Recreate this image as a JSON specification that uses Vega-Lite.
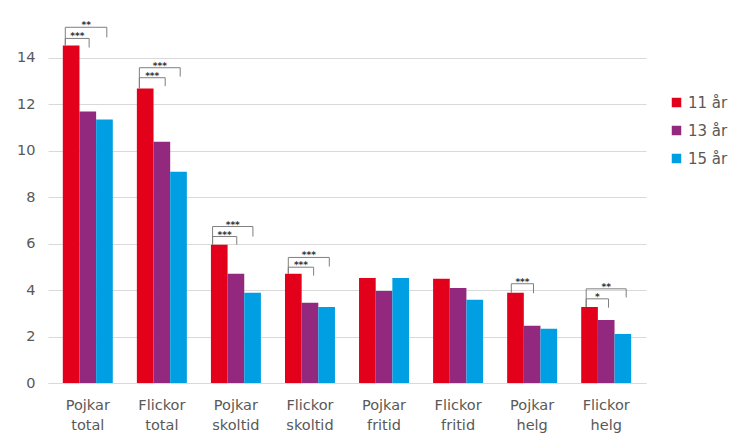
{
  "$schema": "https://vega.github.io/schema/vega-lite/v6.json",
  "autosize": {"type": "none"},
  "width": 598,
  "height": 372,
  "padding": {"left": 48, "top": 11, "right": 107, "bottom": 65},
  "config": {
    "view": {"stroke": null},
    "font": "DejaVu Sans",
    "text": {"font": "DejaVu Sans"}
  },
  "datasets": {
    "bars": [
      {"cat": "Pojkar total", "age": "11 år", "v": 14.52},
      {"cat": "Pojkar total", "age": "13 år", "v": 11.68},
      {"cat": "Pojkar total", "age": "15 år", "v": 11.33},
      {"cat": "Flickor total", "age": "11 år", "v": 12.67},
      {"cat": "Flickor total", "age": "13 år", "v": 10.38},
      {"cat": "Flickor total", "age": "15 år", "v": 9.09},
      {"cat": "Pojkar skoltid", "age": "11 år", "v": 5.95},
      {"cat": "Pojkar skoltid", "age": "13 år", "v": 4.70},
      {"cat": "Pojkar skoltid", "age": "15 år", "v": 3.88},
      {"cat": "Flickor skoltid", "age": "11 år", "v": 4.70},
      {"cat": "Flickor skoltid", "age": "13 år", "v": 3.45},
      {"cat": "Flickor skoltid", "age": "15 år", "v": 3.27},
      {"cat": "Pojkar fritid", "age": "11 år", "v": 4.52},
      {"cat": "Pojkar fritid", "age": "13 år", "v": 3.96},
      {"cat": "Pojkar fritid", "age": "15 år", "v": 4.52},
      {"cat": "Flickor fritid", "age": "11 år", "v": 4.48},
      {"cat": "Flickor fritid", "age": "13 år", "v": 4.09},
      {"cat": "Flickor fritid", "age": "15 år", "v": 3.58},
      {"cat": "Pojkar helg", "age": "11 år", "v": 3.88},
      {"cat": "Pojkar helg", "age": "13 år", "v": 2.46},
      {"cat": "Pojkar helg", "age": "15 år", "v": 2.33},
      {"cat": "Flickor helg", "age": "11 år", "v": 3.27},
      {"cat": "Flickor helg", "age": "13 år", "v": 2.71},
      {"cat": "Flickor helg", "age": "15 år", "v": 2.11}
    ],
    "brackets": [
      {"cat": "Pojkar total", "id": "pt_o", "ord": 1, "xo": 0.15, "y": 14.52},
      {"cat": "Pojkar total", "id": "pt_o", "ord": 2, "xo": 0.15, "y": 15.30},
      {"cat": "Pojkar total", "id": "pt_o", "ord": 3, "xo": 2.64, "y": 15.30},
      {"cat": "Pojkar total", "id": "pt_o", "ord": 4, "xo": 2.64, "y": 14.86},
      {"cat": "Pojkar total", "id": "pt_i", "ord": 1, "xo": 0.15, "y": 14.52},
      {"cat": "Pojkar total", "id": "pt_i", "ord": 2, "xo": 0.15, "y": 14.82},
      {"cat": "Pojkar total", "id": "pt_i", "ord": 3, "xo": 1.58, "y": 14.82},
      {"cat": "Pojkar total", "id": "pt_i", "ord": 4, "xo": 1.58, "y": 14.43},
      {"cat": "Flickor total", "id": "ft_o", "ord": 1, "xo": 0.15, "y": 12.67},
      {"cat": "Flickor total", "id": "ft_o", "ord": 2, "xo": 0.15, "y": 13.56},
      {"cat": "Flickor total", "id": "ft_o", "ord": 3, "xo": 2.6, "y": 13.56},
      {"cat": "Flickor total", "id": "ft_o", "ord": 4, "xo": 2.6, "y": 13.18},
      {"cat": "Flickor total", "id": "ft_i", "ord": 1, "xo": 0.15, "y": 12.67},
      {"cat": "Flickor total", "id": "ft_i", "ord": 2, "xo": 0.15, "y": 13.13},
      {"cat": "Flickor total", "id": "ft_i", "ord": 3, "xo": 1.7, "y": 13.13},
      {"cat": "Flickor total", "id": "ft_i", "ord": 4, "xo": 1.7, "y": 12.77},
      {"cat": "Pojkar skoltid", "id": "ps_o", "ord": 1, "xo": 0.1, "y": 5.95},
      {"cat": "Pojkar skoltid", "id": "ps_o", "ord": 2, "xo": 0.1, "y": 6.73},
      {"cat": "Pojkar skoltid", "id": "ps_o", "ord": 3, "xo": 2.52, "y": 6.73},
      {"cat": "Pojkar skoltid", "id": "ps_o", "ord": 4, "xo": 2.52, "y": 6.30},
      {"cat": "Pojkar skoltid", "id": "ps_i", "ord": 1, "xo": 0.1, "y": 5.95},
      {"cat": "Pojkar skoltid", "id": "ps_i", "ord": 2, "xo": 0.1, "y": 6.30},
      {"cat": "Pojkar skoltid", "id": "ps_i", "ord": 3, "xo": 1.55, "y": 6.30},
      {"cat": "Pojkar skoltid", "id": "ps_i", "ord": 4, "xo": 1.55, "y": 5.95},
      {"cat": "Flickor skoltid", "id": "fs_o", "ord": 1, "xo": 0.2, "y": 4.70},
      {"cat": "Flickor skoltid", "id": "fs_o", "ord": 2, "xo": 0.2, "y": 5.40},
      {"cat": "Flickor skoltid", "id": "fs_o", "ord": 3, "xo": 2.66, "y": 5.40},
      {"cat": "Flickor skoltid", "id": "fs_o", "ord": 4, "xo": 2.66, "y": 5.01},
      {"cat": "Flickor skoltid", "id": "fs_i", "ord": 1, "xo": 0.2, "y": 4.70},
      {"cat": "Flickor skoltid", "id": "fs_i", "ord": 2, "xo": 0.2, "y": 4.98},
      {"cat": "Flickor skoltid", "id": "fs_i", "ord": 3, "xo": 1.72, "y": 4.98},
      {"cat": "Flickor skoltid", "id": "fs_i", "ord": 4, "xo": 1.72, "y": 4.62},
      {"cat": "Pojkar helg", "id": "ph_i", "ord": 1, "xo": 0.25, "y": 3.88},
      {"cat": "Pojkar helg", "id": "ph_i", "ord": 2, "xo": 0.25, "y": 4.27},
      {"cat": "Pojkar helg", "id": "ph_i", "ord": 3, "xo": 1.58, "y": 4.27},
      {"cat": "Pojkar helg", "id": "ph_i", "ord": 4, "xo": 1.58, "y": 3.86},
      {"cat": "Flickor helg", "id": "fh_o", "ord": 1, "xo": 0.3, "y": 3.27},
      {"cat": "Flickor helg", "id": "fh_o", "ord": 2, "xo": 0.3, "y": 4.05},
      {"cat": "Flickor helg", "id": "fh_o", "ord": 3, "xo": 2.7, "y": 4.05},
      {"cat": "Flickor helg", "id": "fh_o", "ord": 4, "xo": 2.7, "y": 3.68},
      {"cat": "Flickor helg", "id": "fh_i", "ord": 1, "xo": 0.3, "y": 3.27},
      {"cat": "Flickor helg", "id": "fh_i", "ord": 2, "xo": 0.3, "y": 3.62},
      {"cat": "Flickor helg", "id": "fh_i", "ord": 3, "xo": 1.64, "y": 3.62},
      {"cat": "Flickor helg", "id": "fh_i", "ord": 4, "xo": 1.64, "y": 3.24}
    ],
    "stars": [
      {"cat": "Pojkar total", "xo": 1.4, "y": 15.30, "label": "**"},
      {"cat": "Pojkar total", "xo": 0.87, "y": 14.82, "label": "***"},
      {"cat": "Flickor total", "xo": 1.38, "y": 13.56, "label": "***"},
      {"cat": "Flickor total", "xo": 0.92, "y": 13.13, "label": "***"},
      {"cat": "Pojkar skoltid", "xo": 1.31, "y": 6.73, "label": "***"},
      {"cat": "Pojkar skoltid", "xo": 0.82, "y": 6.30, "label": "***"},
      {"cat": "Flickor skoltid", "xo": 1.43, "y": 5.40, "label": "***"},
      {"cat": "Flickor skoltid", "xo": 0.96, "y": 4.98, "label": "***"},
      {"cat": "Pojkar helg", "xo": 0.92, "y": 4.27, "label": "***"},
      {"cat": "Flickor helg", "xo": 1.5, "y": 4.05, "label": "**"},
      {"cat": "Flickor helg", "xo": 0.97, "y": 3.62, "label": "*"}
    ]
  },
  "encoding": {
    "x": {
      "field": "cat",
      "type": "nominal",
      "sort": null,
      "scale": {"domain": ["Pojkar total", "Flickor total", "Pojkar skoltid", "Flickor skoltid", "Pojkar fritid", "Flickor fritid", "Pojkar helg", "Flickor helg"], "paddingInner": 0.325, "paddingOuter": 0.2},
      "axis": {
        "title": null,
        "labelAngle": 0,
        "labelExpr": "split(datum.label, ' ')",
        "labelFontSize": 14.5,
        "labelColor": "#595959",
        "labelLineHeight": 20,
        "labelPadding": 15,
        "labelBaseline": "top",
        "ticks": false,
        "domainColor": "#d9d9d9",
        "domainWidth": 1
      }
    },
    "y": {
      "type": "quantitative",
      "scale": {"domain": [0, 16], "nice": false},
      "axis": {
        "title": null,
        "values": [0, 2, 4, 6, 8, 10, 12, 14],
        "labelFontSize": 14.5,
        "labelColor": "#595959",
        "labelPadding": 13,
        "ticks": false,
        "domain": false,
        "gridColor": "#d9d9d9",
        "gridWidth": 1
      }
    }
  },
  "layer": [
    {
      "data": {"name": "bars"},
      "mark": {"type": "bar"},
      "encoding": {
        "y": {"field": "v", "type": "quantitative"},
        "xOffset": {"field": "age", "type": "nominal", "scale": {"paddingInner": 0, "paddingOuter": 0}},
        "color": {
          "field": "age",
          "type": "nominal",
          "scale": {"domain": ["11 år", "13 år", "15 år"], "range": ["#E3001B", "#93287F", "#009FE3"]},
          "legend": {
            "title": null,
            "orient": "none",
            "legendX": 621,
            "legendY": 84,
            "symbolType": "square",
            "symbolSize": 90,
            "symbolStrokeWidth": 0,
            "labelFontSize": 15,
            "labelColor": "#595959",
            "rowPadding": 12,
            "labelOffset": 4
          }
        }
      }
    },
    {
      "data": {"name": "brackets"},
      "mark": {"type": "line", "color": "#7f7f7f", "strokeWidth": 1},
      "encoding": {
        "y": {"field": "y", "type": "quantitative"},
        "xOffset": {"field": "xo", "type": "quantitative", "scale": {"domain": [0, 3]}},
        "detail": {"field": "id"},
        "order": {"field": "ord", "type": "quantitative"}
      }
    },
    {
      "data": {"name": "stars"},
      "mark": {"type": "text", "color": "#333333", "fontSize": 9, "fontWeight": "bold", "baseline": "alphabetic", "align": "center", "dy": 1},
      "encoding": {
        "y": {"field": "y", "type": "quantitative"},
        "xOffset": {"field": "xo", "type": "quantitative", "scale": {"domain": [0, 3]}},
        "text": {"field": "label"}
      }
    }
  ],
  "resolve": {"scale": {"xOffset": "independent"}}
}
